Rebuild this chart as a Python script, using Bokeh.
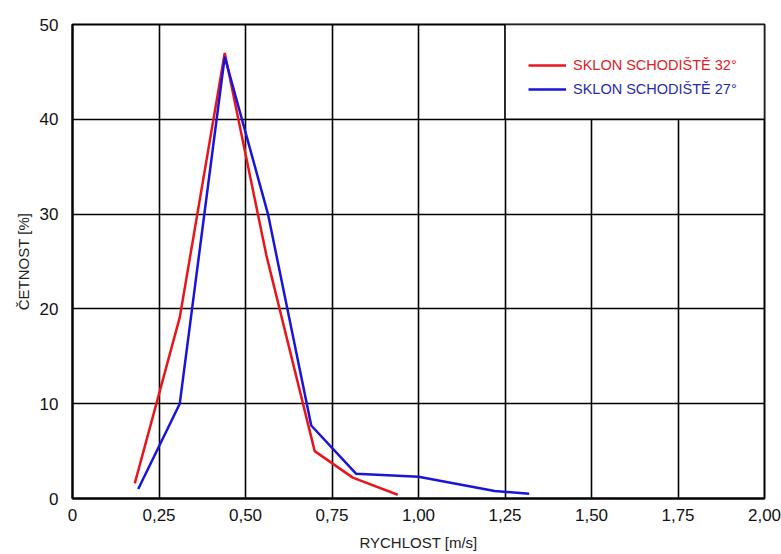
from bokeh.plotting import figure
from bokeh.models import FixedTicker, Legend, LegendItem, Range1d, BoxAnnotation
from bokeh.embed import file_html
from bokeh.resources import INLINE

# data
red_x = [0.18, 0.31, 0.44, 0.56, 0.70, 0.81, 0.94]
red_y = [1.6, 19.1, 47.0, 25.7, 5.0, 2.2, 0.4]
blue_x = [0.19, 0.31, 0.44, 0.565, 0.69, 0.82, 1.00, 1.22, 1.32]
blue_y = [1.0, 10.0, 46.6, 30.0, 7.7, 2.6, 2.3, 0.8, 0.5]
red_label = "SKLON SCHODIŠTĚ 32°"
blue_label = "SKLON SCHODIŠTĚ 27°"
x_ticks = [0, 0.25, 0.5, 0.75, 1.0, 1.25, 1.5, 1.75, 2.0]
x_tick_labels = ["0", "0,25", "0,50", "0,75", "1,00", "1,25", "1,50", "1,75", "2,00"]
y_ticks = [0, 10, 20, 30, 40, 50]

FONT = "'Liberation Sans', Arial, sans-serif"
RED = "#e8161c"
BLUE = "#1a14d8"

p = figure(width=781, height=554, output_backend="svg", toolbar_location=None,
           x_range=Range1d(0, 2), y_range=Range1d(0, 50),
           min_border_left=72, min_border_right=17, min_border_top=24, min_border_bottom=56)
p.background_fill_color = "white"
p.border_fill_color = "white"
p.outline_line_color = "black"
p.outline_line_width = 2

for ax in (p.xaxis[0], p.yaxis[0]):
    ax.major_tick_line_color = None
    ax.minor_tick_line_color = None
    ax.axis_line_color = "black"
    ax.axis_line_width = 2
    ax.major_label_text_font = FONT
    ax.major_label_text_font_size = "17px"
    ax.major_label_text_color = "#111111"
    ax.axis_label_text_font = FONT
    ax.axis_label_text_font_size = "15px"
    ax.axis_label_text_font_style = "normal"
    ax.axis_label_text_color = "#222222"

p.xaxis.ticker = FixedTicker(ticks=x_ticks)
p.xaxis.major_label_overrides = {t: l for t, l in zip(x_ticks, x_tick_labels)}
p.yaxis.ticker = FixedTicker(ticks=y_ticks)
p.xaxis.axis_label = "RYCHLOST [m/s]"
p.yaxis.axis_label = "ČETNOST [%]"
p.xaxis.major_label_standoff = 4
p.yaxis.major_label_standoff = 8
p.xaxis.axis_label_standoff = 10
p.yaxis.axis_label_standoff = 5

for g in (p.xgrid[0], p.ygrid[0]):
    g.grid_line_color = "black"
    g.grid_line_width = 1.6
    g.grid_line_alpha = 1.0

r_red = p.line(red_x, red_y, line_color=RED, line_width=2.5)
r_blue = p.line(blue_x, blue_y, line_color=BLUE, line_width=2.5)

# white legend panel occupying the top-right grid cells
legend_panel = BoxAnnotation(left=x_ticks[5], right=x_ticks[-1], bottom=y_ticks[4], top=y_ticks[-1],
                             fill_color="white", fill_alpha=1.0,
                             line_color="black", line_width=1.6, line_alpha=1.0)
p.add_layout(legend_panel)

def make_legend(label, renderer, color, loc):
    return Legend(items=[LegendItem(label=label, renderers=[renderer])], location=loc,
                  border_line_color=None, background_fill_alpha=0,
                  padding=0, margin=0, glyph_width=38, glyph_height=20,
                  label_standoff=7, label_text_font=FONT, label_text_font_size="14.5px",
                  label_text_color=color, label_height=20)

p.add_layout(make_legend(red_label, r_red, "#e02026", (456, 423)), "center")
p.add_layout(make_legend(blue_label, r_blue, "#2a2aa8", (456, 399)), "center")

open("out.html", "w").write(file_html(p, INLINE))
